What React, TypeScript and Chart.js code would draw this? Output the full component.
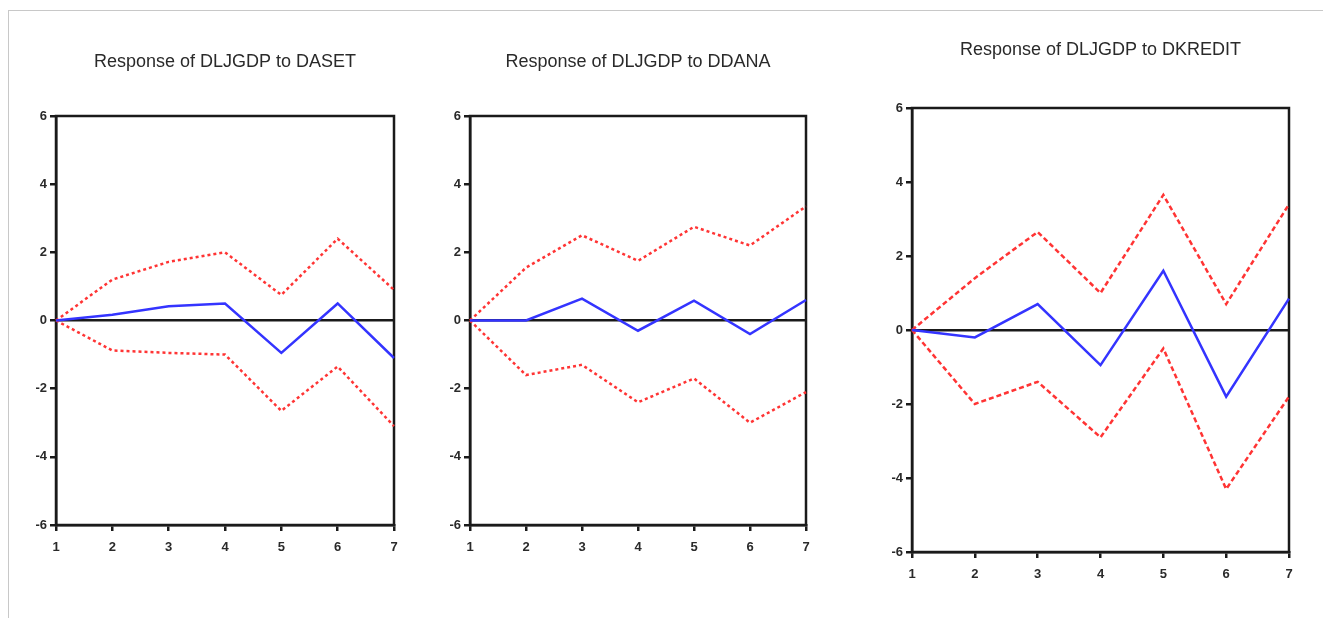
import React, { useEffect, useRef } from "react";
import { Chart, registerables } from "chart.js";

Chart.register(...registerables);

// ---- data ----
const periods = ["1", "2", "3", "4", "5", "6", "7"];
const yMin = -6;
const yMax = 6;
const yStep = 2;

const asetTitle = "Response of DLJGDP to DASET";
const asetResponse = [0, 0.17, 0.42, 0.5, -0.95, 0.5, -1.1];
const asetUpper = [0, 1.2, 1.72, 2.0, 0.75, 2.4, 0.9];
const asetLower = [0, -0.88, -0.95, -1.0, -2.65, -1.35, -3.1];

const danaTitle = "Response of DLJGDP to DDANA";
const danaResponse = [0, 0, 0.64, -0.3, 0.58, -0.4, 0.6];
const danaUpper = [0, 1.55, 2.5, 1.75, 2.75, 2.2, 3.35];
const danaLower = [0, -1.6, -1.3, -2.4, -1.7, -3.0, -2.1];

const kreditTitle = "Response of DLJGDP to DKREDIT";
const kreditResponse = [0, -0.2, 0.7, -0.95, 1.6, -1.8, 0.85];
const kreditUpper = [0, 1.4, 2.65, 1.0, 3.65, 0.7, 3.4];
const kreditLower = [0, -2.0, -1.4, -2.9, -0.5, -4.3, -1.8];

// ---- layout (page coordinates of each plot area) ----
const AXIS_W = 60;
const XAXIS_H = 40;

type PanelProps = {
  title: string;
  response: number[];
  upper: number[];
  lower: number[];
  dash: number[];
  left: number;
  right: number;
  top: number;
  bottom: number;
  titleY: number;
};

const FONT = "'Liberation Sans', Arial, sans-serif";
const INK = "#1a1a1a";

const framePlugin = {
  id: "frame",
  beforeDatasetsDraw(chart: any) {
    const { ctx, chartArea } = chart;
    ctx.save();
    ctx.strokeStyle = INK;
    ctx.lineWidth = 2.5;
    ctx.strokeRect(
      chartArea.left,
      chartArea.top,
      chartArea.right - chartArea.left,
      chartArea.bottom - chartArea.top
    );
    ctx.restore();
  },
};

function Panel(p: PanelProps) {
  const ref = useRef<HTMLCanvasElement>(null);
  const cx = p.left - AXIS_W;
  const cy = p.titleY - 30;
  const w = p.right - p.left + AXIS_W * 2;
  const h = p.bottom - cy + XAXIS_H + 10;
  const titleFont = 18;
  const titleLH = titleFont * 1.2;
  const padTop = 30 - titleLH / 2;
  const padBottom = p.top - cy - padTop - titleLH;

  useEffect(() => {
    if (!ref.current) return;
    const chart = new Chart(ref.current, {
      type: "line",
      data: {
        labels: periods,
        datasets: [
          {
            data: p.response,
            borderColor: "#3434ff",
            borderWidth: 2.5,
            pointRadius: 0,
            tension: 0,
          },
          {
            data: p.upper,
            borderColor: "#ff3434",
            borderWidth: 2.5,
            borderDash: p.dash,
            pointRadius: 0,
            tension: 0,
          },
          {
            data: p.lower,
            borderColor: "#ff3434",
            borderWidth: 2.5,
            borderDash: p.dash,
            pointRadius: 0,
            tension: 0,
          },
        ],
      },
      options: {
        animation: false,
        responsive: false,
        maintainAspectRatio: false,
        layout: { padding: { left: 0, right: 0, top: 0, bottom: 10 } },
        plugins: {
          legend: { display: false },
          tooltip: { enabled: false },
          title: {
            display: true,
            text: p.title,
            fullSize: false,
            color: "#2a2a2a",
            font: { family: FONT, size: titleFont, weight: "normal", lineHeight: 1.2 },
            padding: { top: padTop, bottom: padBottom },
          },
        },
        scales: {
          x: {
            type: "category",
            offset: false,
            grid: {
              drawOnChartArea: false,
              color: INK,
              tickColor: INK,
              tickLength: 6,
              lineWidth: 2.5,
            },
            border: { display: true, color: INK, width: 2.5 },
            ticks: {
              color: "#2a2a2a",
              font: { family: FONT, size: 13, weight: "bold" },
              padding: 9,
              maxRotation: 0,
              autoSkip: false,
            },
            afterFit(scale: any) {
              scale.height = XAXIS_H;
            },
          },
          y: {
            type: "linear",
            min: yMin,
            max: yMax,
            grid: {
              drawOnChartArea: true,
              color: (ctx: any) =>
                ctx.tick && ctx.tick.value === 0 ? INK : "rgba(0,0,0,0)",
              lineWidth: 2.5,
              tickColor: INK,
              tickLength: 6,
            },
            border: { display: true, color: INK, width: 2.5 },
            ticks: {
              stepSize: yStep,
              color: "#2a2a2a",
              font: { family: FONT, size: 13, weight: "bold" },
              padding: 3,
            },
            afterFit(scale: any) {
              scale.width = AXIS_W;
            },
          },
          yRight: {
            type: "linear",
            position: "right",
            display: true,
            grid: { display: false },
            border: { display: false },
            ticks: { display: false },
            afterFit(scale: any) {
              scale.width = AXIS_W;
            },
          },
        },
      },
      plugins: [framePlugin],
    });
    return () => chart.destroy();
  }, []);

  return (
    <canvas
      ref={ref}
      width={w}
      height={h}
      style={{ position: "absolute", left: cx, top: cy, width: w, height: h }}
    />
  );
}

export default function App() {
  return (
    <div
      style={{
        position: "fixed",
        left: 0,
        top: 0,
        width: 1323,
        height: 618,
        background: "#ffffff",
        overflow: "hidden",
      }}
    >
      <div
        style={{
          position: "absolute",
          left: 8,
          top: 10,
          width: 1315,
          height: 608,
          borderTop: "1px solid #c8c8c8",
          borderLeft: "1px solid #c8c8c8",
        }}
      />
      <Panel
        title={asetTitle}
        response={asetResponse}
        upper={asetUpper}
        lower={asetLower}
        dash={[3, 3]}
        left={56}
        right={394}
        top={116}
        bottom={525}
        titleY={62}
      />
      <Panel
        title={danaTitle}
        response={danaResponse}
        upper={danaUpper}
        lower={danaLower}
        dash={[3, 3]}
        left={470}
        right={806}
        top={116}
        bottom={525}
        titleY={62}
      />
      <Panel
        title={kreditTitle}
        response={kreditResponse}
        upper={kreditUpper}
        lower={kreditLower}
        dash={[5, 3]}
        left={912}
        right={1289}
        top={108}
        bottom={552}
        titleY={50}
      />
    </div>
  );
}
